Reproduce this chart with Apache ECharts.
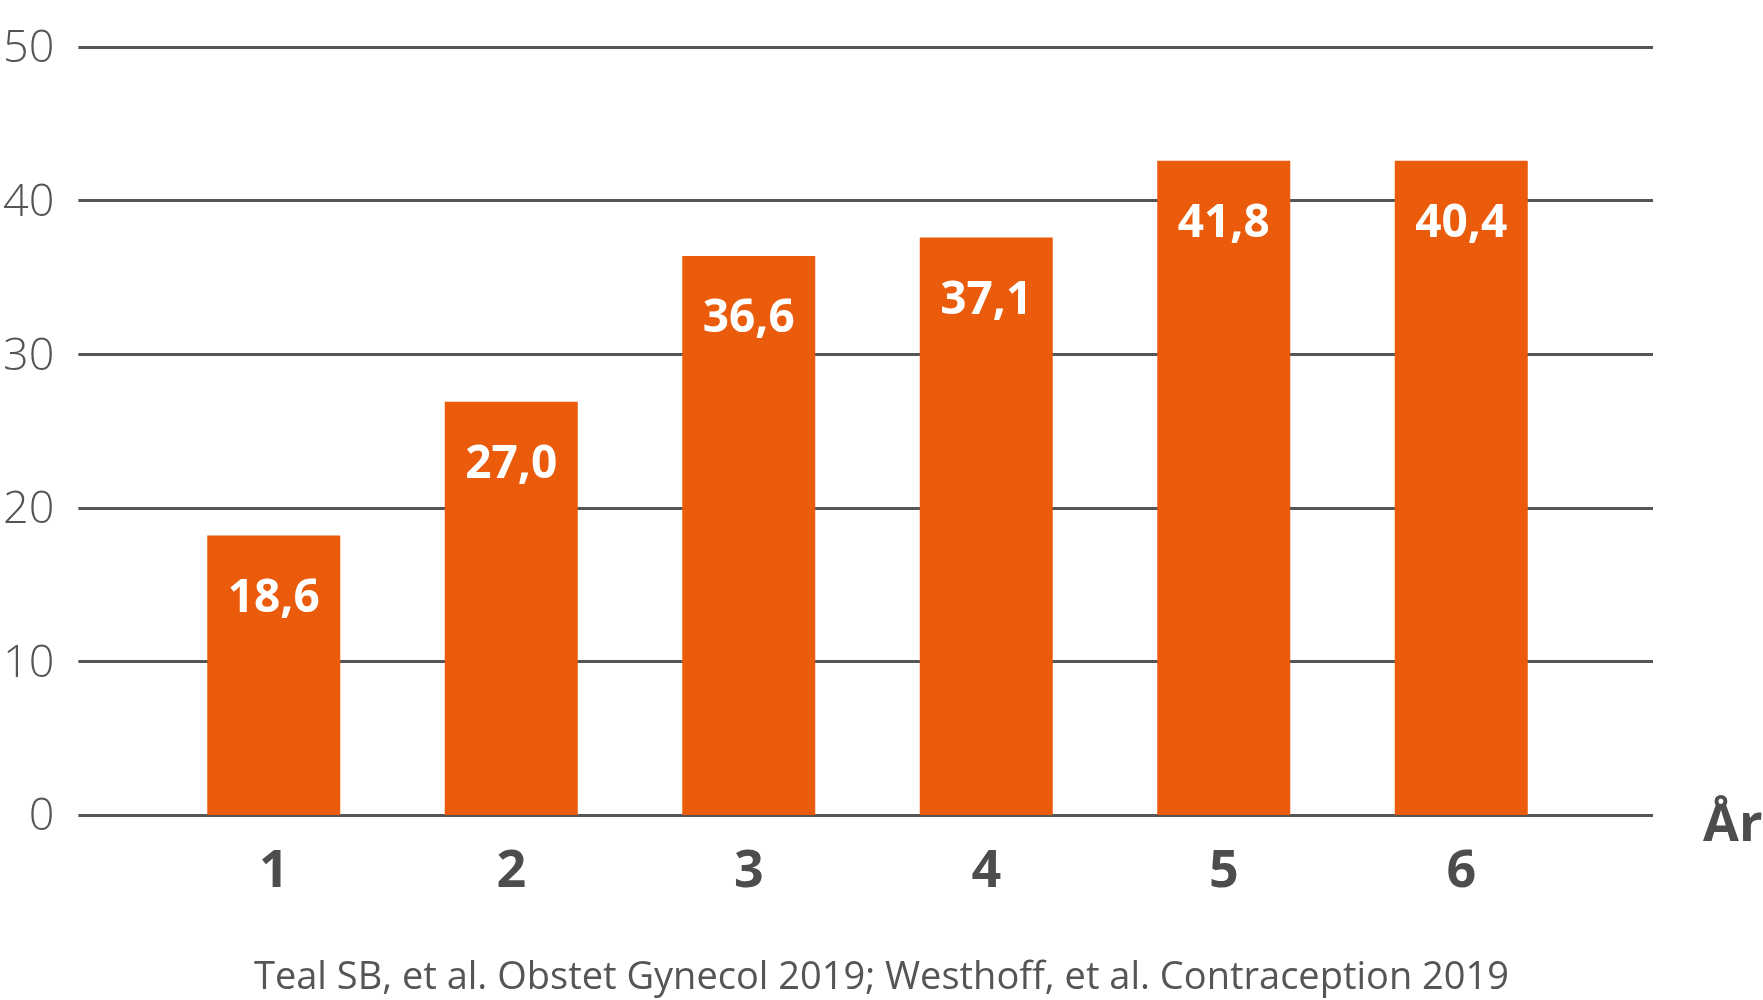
<!DOCTYPE html>
<html>
<head>
<meta charset="utf-8">
<script src="https://cdn.jsdelivr.net/npm/echarts@6/dist/echarts.min.js"></script>
<style>
  html, body { margin: 0; padding: 0; background: #fff; }
  #chart { width: 1763px; height: 1000px; }
</style>
</head>
<body>
<div id="chart"></div>
<script>
// år 1-6, søylehøyder lest fra bildet og etikettene slik de står
const years = ['1', '2', '3', '4', '5', '6'];
const barHeights = [18.2, 26.9, 36.4, 37.6, 42.6, 42.6];
const valueLabels = ['18,6', '27,0', '36,6', '37,1', '41,8', '40,4'];
const yTicks = [0, 10, 20, 30, 40, 50];
const sourceText = 'Teal SB, et al. Obstet Gynecol 2019; Westhoff, et al. Contraception 2019';

const chart = echarts.init(document.getElementById('chart'));

const gridTop = 47;
const gridBottom = 1000 - 815;

const option = {
  animation: false,
  grid: [
    // bred grid for rutenettlinjer og y-etiketter
    { left: 77, right: 1763 - 1653, top: gridTop, bottom: gridBottom },
    // smal grid for søylene
    { left: 155, right: 1763 - 1580, top: gridTop, bottom: gridBottom }
  ],
  xAxis: [
    { gridIndex: 0, type: 'value', show: false, min: 0, max: 1 },
    {
      gridIndex: 1,
      type: 'category',
      data: years,
      axisLine: { show: false },
      axisTick: { show: false },
      axisLabel: {
        margin: 31,
        fontFamily: 'Open Sans',
        fontWeight: 'bold',
        fontSize: 52,
        color: '#4d4d4d'
      }
    }
  ],
  yAxis: [
    {
      gridIndex: 0,
      type: 'value',
      min: yTicks[0],
      max: yTicks[yTicks.length - 1],
      interval: 10,
      axisLine: { show: false },
      axisTick: { show: false },
      axisLabel: {
        margin: 24,
        fontFamily: 'Open Sans',
        fontWeight: 300,
        fontSize: 45,
        color: '#555',
        verticalAlign: 'top',
        padding: [-20, 0, 0, 0]
      },
      splitLine: { lineStyle: { color: '#555', width: 3 } }
    },
    {
      gridIndex: 1,
      type: 'value',
      min: yTicks[0],
      max: yTicks[yTicks.length - 1],
      interval: 10,
      show: false,
      splitLine: { show: false }
    }
  ],
  series: [
    {
      type: 'bar',
      xAxisIndex: 1,
      yAxisIndex: 1,
      data: barHeights,
      barWidth: 133,
      itemStyle: { color: '#EA5B0C' },
      z: 3,
      label: {
        show: true,
        position: 'insideTop',
        distance: 40,
        formatter: p => valueLabels[p.dataIndex],
        fontFamily: 'Open Sans',
        fontWeight: 'bold',
        fontSize: 46,
        color: '#fff'
      }
    }
  ],
  graphic: [
    {
      type: 'text',
      left: 1703,
      top: 800,
      style: {
        text: 'År',
        fontFamily: 'Open Sans',
        fontWeight: 'bold',
        fontSize: 52,
        fill: '#4d4d4d'
      }
    },
    {
      type: 'text',
      left: 'center',
      top: 959,
      style: {
        text: sourceText,
        fontFamily: 'Open Sans',
        fontSize: 38,
        fill: '#555'
      }
    }
  ]
};

chart.setOption(option);
window.addEventListener('resize', () => chart.resize());
</script>
</body>
</html>
